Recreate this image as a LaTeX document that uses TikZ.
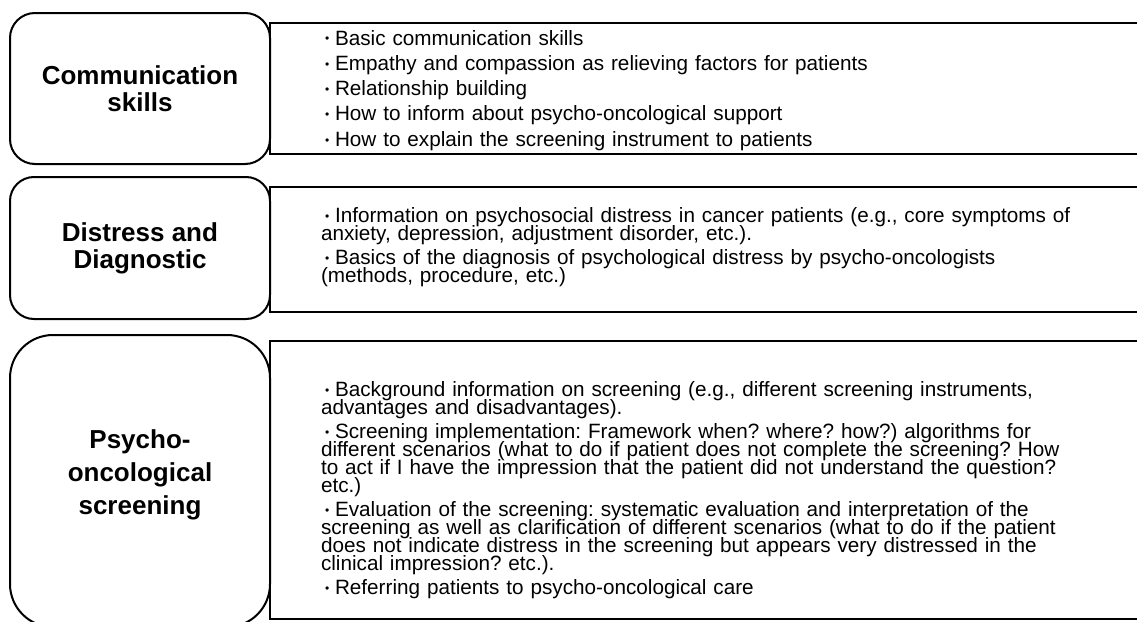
\documentclass[tikz,border=0pt]{standalone}
\usepackage{fontspec}
\setmainfont{Liberation Sans}
\usepackage{tikz}
\usetikzlibrary{positioning}
\setlength{\lineskiplimit}{-50pt}
\newcommand{\itm}[1]{\hangindent=14pt\hangafter=1\noindent\makebox[14pt][l]{\hspace{4pt}\raisebox{2pt}{\fontsize{12}{12}\selectfont\textbullet}}#1\par}

\begin{document}
\begin{tikzpicture}[x=1pt, y=-1pt, node distance=0pt, outer sep=0pt]
\tikzstyle{topic}=[draw=black, line width=2pt, minimum width=260pt, align=center, font=\fontsize{26}{26.7}\selectfont\bfseries]
\tikzstyle{detail}=[draw=black, line width=2.7pt, minimum width=880pt]
\tikzstyle{list}=[anchor=base west, inner sep=0pt, text width=800pt, align=left, font=\fontsize{20.7}{18}\selectfont,
  execute at begin node={\frenchspacing\setlength{\parskip}{6pt}\setlength{\baselineskip}{18pt}\setlength{\lineskiplimit}{-50pt}}]
\useasboundingbox (0,0) rectangle (1137,621);
\node[topic, rounded corners=25pt, minimum height=151pt] (comm)  at (140,88.5) {Communication\\skills};
\node[topic, rounded corners=24pt, minimum height=142pt] (diag)  at (140,248)  {Distress and\\Diagnostic};
\node[topic, rounded corners=43pt, minimum height=292pt] (scr)   at (140,481)  {};
\node[font=\fontsize{26}{33}\selectfont\bfseries, align=center] (scrlbl) at (140,475) {Psycho-\\oncological\\screening};

\node[detail, minimum height=131pt] (commbox) [right=of comm] {};
\node[detail, minimum height=125pt, yshift=-1.5pt] (diagbox) [right=of diag] {};
\node[detail, minimum height=278pt, yshift=1pt] (scrbox)  [right=of scr]  {};

\node[list, xshift=51pt, yshift=-22pt, execute at begin node={\setlength{\parskip}{7.3pt}}] (commtxt) at (commbox.north west) {%
\itm{Basic communication skills}
\itm{Empathy and compassion as relieving factors for patients}
\itm{Relationship building}
\itm{How to inform about psycho-oncological support}
\itm{How to explain the screening instrument to patients}};
\node[list, xshift=51pt, yshift=-35pt] (diagtxt) at (diagbox.north west) {%
\itm{Information on psychosocial distress in cancer patients (e.g., core symptoms of\\
anxiety, depression, adjustment disorder, etc.).}
\itm{Basics of the diagnosis of psychological distress by psycho-oncologists\\
(methods, procedure, etc.)}};
\node[list, xshift=51pt, yshift=-55pt] (scrtxt) at (scrbox.north west) {%
\itm{Background information on screening (e.g., different screening instruments,\\
advantages and disadvantages).}
\itm{Screening implementation: Framework when? where? how?) algorithms for\\
different scenarios (what to do if patient does not complete the screening? How\\
to act if I have the impression that the patient did not understand the question?\\
etc.)}
\itm{Evaluation of the screening: systematic evaluation and interpretation of the\\
screening as well as clarification of different scenarios (what to do if the patient\\
does not indicate distress in the screening but appears very distressed in the\\
clinical impression? etc.).}
\itm{Referring patients to psycho-oncological care}};
\end{tikzpicture}
\end{document}
